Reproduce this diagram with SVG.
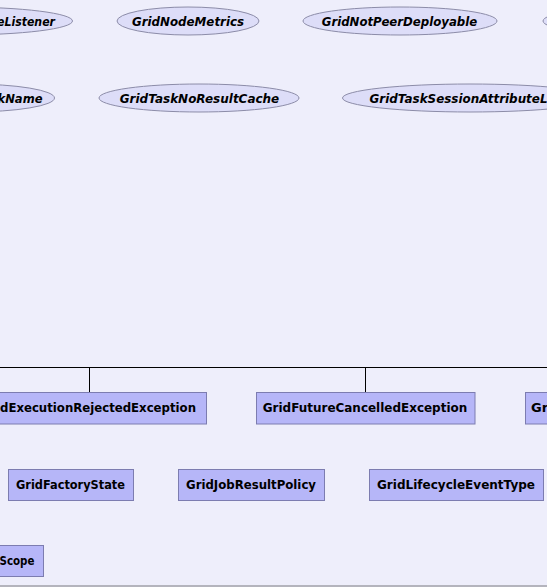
<svg xmlns="http://www.w3.org/2000/svg" width="547" height="587" viewBox="0 0 547 587">
<style>
.bg{fill:#EEEEFB}
.iface ellipse{fill:#DDDDF8;stroke:#8C8CA8;stroke-width:1}
.iface text{font-family:"DejaVu Sans","Liberation Sans",sans-serif;font-size:13px;font-weight:bold;font-style:italic;fill:#000}
.cls rect{fill:#B6B6F8;stroke:#7C7CB0;stroke-width:1}
.cls text{font-family:"DejaVu Sans","Liberation Sans",sans-serif;font-size:13px;font-weight:bold;fill:#000}
.conn line{stroke:#000;stroke-width:1;fill:none}
</style>
<rect class="bg" x="0" y="0" width="547" height="587"/>
<line x1="0" y1="586" x2="547" y2="586" stroke="#A0A0A8" stroke-width="1.5"/>

<g id="n_listener" class="iface">
<ellipse cx="-40" cy="21" rx="112.5" ry="14"/>
<text x="55" y="25.5" text-anchor="end" textLength="58" lengthAdjust="spacingAndGlyphs">eListener</text>
</g>
<g id="n_nodemetrics" class="iface">
<ellipse cx="188" cy="21" rx="71" ry="14"/>
<text x="188" y="25.5" text-anchor="middle" textLength="112" lengthAdjust="spacingAndGlyphs">GridNodeMetrics</text>
</g>
<g id="n_notpeer" class="iface">
<ellipse cx="400" cy="21" rx="97" ry="14"/>
<text x="399.5" y="25.5" text-anchor="middle" textLength="155.5" lengthAdjust="spacingAndGlyphs">GridNotPeerDeployable</text>
</g>
<g id="n_r1e4" class="iface">
<ellipse cx="640" cy="21" rx="97" ry="14"/>
</g>

<g id="n_taskname" class="iface">
<ellipse cx="-30" cy="98" rx="84.5" ry="14"/>
<text x="42.5" y="102.5" text-anchor="end" textLength="45" lengthAdjust="spacingAndGlyphs">kName</text>
</g>
<g id="n_noresult" class="iface">
<ellipse cx="199" cy="98" rx="100" ry="14"/>
<text x="199.5" y="102.5" text-anchor="middle" textLength="159.5" lengthAdjust="spacingAndGlyphs">GridTaskNoResultCache</text>
</g>
<g id="n_sessattr" class="iface">
<ellipse cx="470" cy="98" rx="127.5" ry="14"/>
<text x="369.5" y="102.5" textLength="178" lengthAdjust="spacingAndGlyphs">GridTaskSessionAttributeL</text>
</g>

<g id="connectors" class="conn">
<line x1="0" y1="367.5" x2="547" y2="367.5"/>
<line x1="89.5" y1="367.5" x2="89.5" y2="392"/>
<line x1="365.5" y1="367.5" x2="365.5" y2="392"/>
</g>

<g id="n_execrej" class="cls">
<rect x="-28.5" y="392.5" width="235" height="31.5"/>
<text x="196" y="411.5" text-anchor="end" textLength="196" lengthAdjust="spacingAndGlyphs">dExecutionRejectedException</text>
</g>
<g id="n_futcanc" class="cls">
<rect x="256.5" y="392.5" width="218.5" height="31.5"/>
<text x="365" y="411.5" text-anchor="middle" textLength="204.5" lengthAdjust="spacingAndGlyphs">GridFutureCancelledException</text>
</g>
<g id="n_r3b3" class="cls">
<rect x="525.5" y="392.5" width="60" height="31.5"/>
<text x="531" y="411.5">Gr</text>
</g>

<g id="n_factory" class="cls">
<rect x="8.5" y="469.5" width="125" height="31"/>
<text x="70.5" y="488.5" text-anchor="middle" textLength="109" lengthAdjust="spacingAndGlyphs">GridFactoryState</text>
</g>
<g id="n_jobresult" class="cls">
<rect x="178.5" y="469.5" width="146" height="31"/>
<text x="251" y="488.5" text-anchor="middle" textLength="130" lengthAdjust="spacingAndGlyphs">GridJobResultPolicy</text>
</g>
<g id="n_lifecycle" class="cls">
<rect x="369.5" y="469.5" width="174" height="31"/>
<text x="456" y="488.5" text-anchor="middle" textLength="158" lengthAdjust="spacingAndGlyphs">GridLifecycleEventType</text>
</g>

<g id="n_scope" class="cls">
<rect x="-60" y="545.5" width="103.5" height="31"/>
<text x="34.5" y="564.5" text-anchor="end" textLength="35" lengthAdjust="spacingAndGlyphs">Scope</text>
</g>
</svg>
